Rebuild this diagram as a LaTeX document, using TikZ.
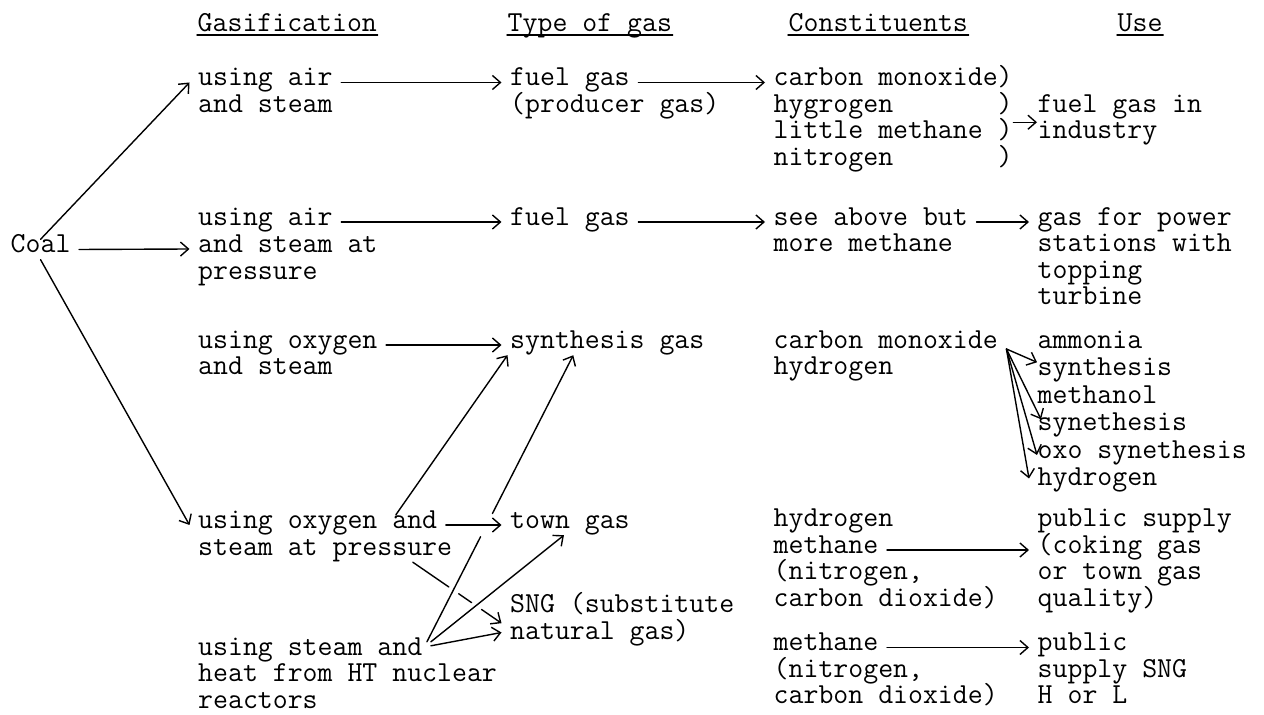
\documentclass[tikz,border=0pt]{standalone}
\usetikzlibrary{calc,arrows.meta}

% one node per typed line: name, x, first baseline, line pitch, lines
\newcommand\lines[5]{%
  \foreach \txt [count=\i] in {#5}
    \node[txt] (#1-\i) at (#2,{#3+#4*(\i-1)}) {\txt};}

\begin{document}
\begin{tikzpicture}[
  x=0.5pt, y=-0.5pt,
  line cap=round, line join=round, line width=0.7pt,
  >={Straight Barb[length=4pt,width=7pt]},
  txt/.style={anchor=base west, inner xsep=4pt, inner ysep=0pt,
    text height=6.5pt, text depth=3pt,
    font=\fontsize{14.5}{16}\selectfont\ttfamily},
  head/.style={txt, inner sep=0pt},
  arr/.style={->}
]
\useasboundingbox (0,0) rectangle (1264,715);

% Spaltenköpfe
\node[head] (hg) at (197,32) {Gasification};
\node[head] (ht) at (507,32) {Type of gas};
\node[head] (hc) at (788,32) {Constituents};
\node[head] (hu) at (1117,32) {Use};
\foreach \h in {hg,ht,hc,hu}
  \draw ([yshift=-1.5pt]\h.base west) -- ([yshift=-1.5pt]\h.base east);

% Kohle
\node[txt] (coal) at (2,253) {Coal};

% Vergasung
\lines{g1}{189.5}{86}{26.5}{using air, and steam}
\lines{g2}{189.5}{225.5}{27}{using air, and steam at, pressure}
\lines{g3}{189.5}{348.5}{26.5}{using oxygen, and steam}
\lines{g4}{189.5}{528.5}{27}{using oxygen and, steam at pressure}
\lines{g5}{189.5}{655.5}{26.5}{using steam and, heat from HT nuclear, reactors}

% Gasart
\lines{t1}{501.5}{86}{26.5}{fuel gas, {(producer gas)}}
\lines{t2}{501.5}{225.5}{26.5}{fuel gas}
\lines{t3}{501.5}{348.5}{26.5}{synthesis gas}
\lines{t4}{501.5}{528.5}{26.5}{town gas}
\lines{t5}{501.5}{612.5}{27.5}{SNG (substitute, natural gas)}

% Bestandteile
\lines{c1}{765}{86}{26.5}{carbon monoxide), hygrogen~~~~~~~), little methane~), nitrogen~~~~~~~)}
\lines{c2}{765}{225.5}{26.5}{see above but, more methane}
\lines{c3}{765}{348.5}{26.5}{carbon monoxide, hydrogen}
\lines{c4}{765}{527}{26.5}{hydrogen, methane, {(nitrogen,}, carbon dioxide)}
\lines{c5}{765}{651}{26.5}{methane, {(nitrogen,}, carbon dioxide)}

% Verwendung
\lines{u1}{1029}{112.5}{26.5}{fuel gas in, industry}
\lines{u2}{1029}{225.5}{26.5}{gas for power, stations with, topping, turbine}
\lines{u3}{1029}{348.5}{27.5}{ammonia, synthesis, methanol, synethesis, oxo synethesis, hydrogen}
\lines{u4}{1029}{527}{26.5}{public supply, {(coking gas}, or town gas, quality)}
\lines{u5}{1029}{651}{26.5}{public, supply SNG, H or L}

% Pfeile von Kohle
\draw[arr] (coal.north) -- (g1-1.west);
\draw[arr] (coal.east) -- (g2-2.west);
\draw[arr] (coal.south) -- (g4-1.west);

% waagerechte Pfeile
\draw[arr] (g1-1.east) -- (t1-1.west);
\draw[arr] (t1-1.east) -- (c1-1.west);
\draw[arr, shorten <=-4pt, shorten >=-4pt]
  ($(c1-2.east)!0.5!(c1-3.east)$) -- ($(u1-1.west)!0.5!(u1-2.west)$);
\draw[arr] (g2-1.east) -- (t2-1.west);
\draw[arr] (t2-1.east) -- (c2-1.west);
\draw[arr] (c2-1.east) -- (u2-1.west);
\draw[arr] (g3-1.east) -- (t3-1.west);
\draw[arr] (g4-1.east) -- (t4-1.west);
\draw[arr] (c4-2.east) -- (u4-2.west);
\draw[arr] (c5-1.east) -- (u5-1.west);

% schräge Pfeile
\draw[arr] ([xshift=-25pt]g4-1.north east) -- ([xshift=3pt]t3-1.south west);
\draw[arr, dash pattern=on 59pt off 13pt on 300pt]
  ([xshift=-2pt]g5-1.north east) -- ([xshift=-17pt]t3-1.south);
\draw[arr] (g5-1.north east) -- ([xshift=-3pt]t4-1.south);
\draw[arr] ([yshift=-2pt]g5-1.north east) -- ([yshift=2pt]t5-2.west);
\draw[arr, dash pattern=on 21.85pt off 6pt on 7.85pt off 6pt on 60pt]
  ([xshift=-24pt]g4-2.south east) -- ([yshift=-2pt]t5-1.south west);

% Fächer zur Verwendung
\foreach \n/\dx/\dy in {u3-2.north west/4/0, u3-4.north west/6/-1,
                        u3-5.west/4/0, u3-6.west/0/2}
  \draw[arr] ([yshift=-2pt]c3-1.east) -- ([xshift=\dx pt,yshift=\dy pt]\n);
\end{tikzpicture}
\end{document}
